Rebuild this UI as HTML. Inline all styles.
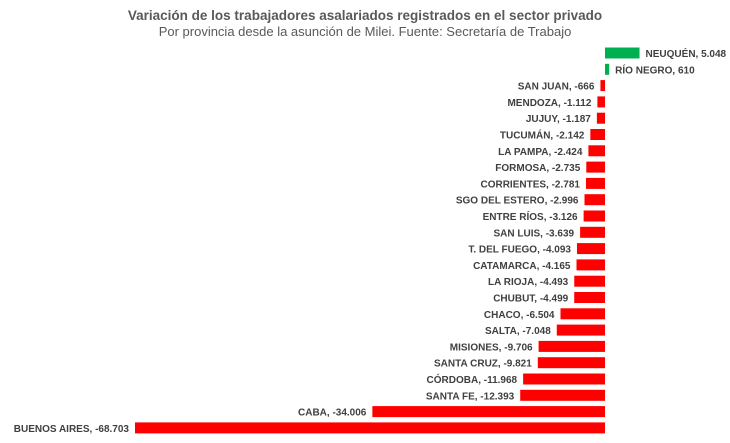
<!DOCTYPE html>
<html><head><meta charset="utf-8"><style>
body{margin:0;width:730px;height:438px;background:#fff;font-family:"Liberation Sans",sans-serif;overflow:hidden}
</style></head><body>
<svg id="s" width="730" height="438" xmlns="http://www.w3.org/2000/svg">
<text x="365" y="20" text-anchor="middle" font-size="13.5" font-weight="bold" fill="#595959" font-family="Liberation Sans">Variación de los trabajadores asalariados registrados en el sector privado</text>
<text x="365" y="36" text-anchor="middle" font-size="13" fill="#595959" font-family="Liberation Sans">Por provincia desde la asunción de Milei. Fuente: Secretaría de Trabajo</text>
</svg>
<script>
var d=[["NEUQUÉN",5048,"5.048"],["RÍO NEGRO",610,"610"],["SAN JUAN",-666,"-666"],["MENDOZA",-1112,"-1.112"],["JUJUY",-1187,"-1.187"],["TUCUMÁN",-2142,"-2.142"],["LA PAMPA",-2424,"-2.424"],["FORMOSA",-2735,"-2.735"],["CORRIENTES",-2781,"-2.781"],["SGO DEL ESTERO",-2996,"-2.996"],["ENTRE RÍOS",-3126,"-3.126"],["SAN LUIS",-3639,"-3.639"],["T. DEL FUEGO",-4093,"-4.093"],["CATAMARCA",-4165,"-4.165"],["LA RIOJA",-4493,"-4.493"],["CHUBUT",-4499,"-4.499"],["CHACO",-6504,"-6.504"],["SALTA",-7048,"-7.048"],["MISIONES",-9706,"-9.706"],["SANTA CRUZ",-9821,"-9.821"],["CÓRDOBA",-11968,"-11.968"],["SANTA FE",-12393,"-12.393"],["CABA",-34006,"-34.006"],["BUENOS AIRES",-68703,"-68.703"]];
var s=document.getElementById('s'),z=605,k=470/68703,h='';
d.forEach(function(r,i){var y=53+i*16.3,w=Math.abs(r[1])*k;
if(r[1]>0){h+='<rect x="'+z+'" y="'+(y-5.5)+'" width="'+w+'" height="11" fill="#00B050"/>';
h+='<text x="'+(z+w+6)+'" y="'+(y+4)+'" font-size="10" font-weight="bold" fill="#404040" font-family="Liberation Sans">'+r[0]+',  '+r[2]+'</text>';}
else{h+='<rect x="'+(z-w)+'" y="'+(y-5.5)+'" width="'+w+'" height="11" fill="#FF0000"/>';
h+='<text x="'+(z-w-6)+'" y="'+(y+4)+'" text-anchor="end" font-size="10" font-weight="bold" fill="#404040" font-family="Liberation Sans">'+r[0]+', '+r[2]+'</text>';}});
s.insertAdjacentHTML('beforeend',h);
</script>
</body></html>
